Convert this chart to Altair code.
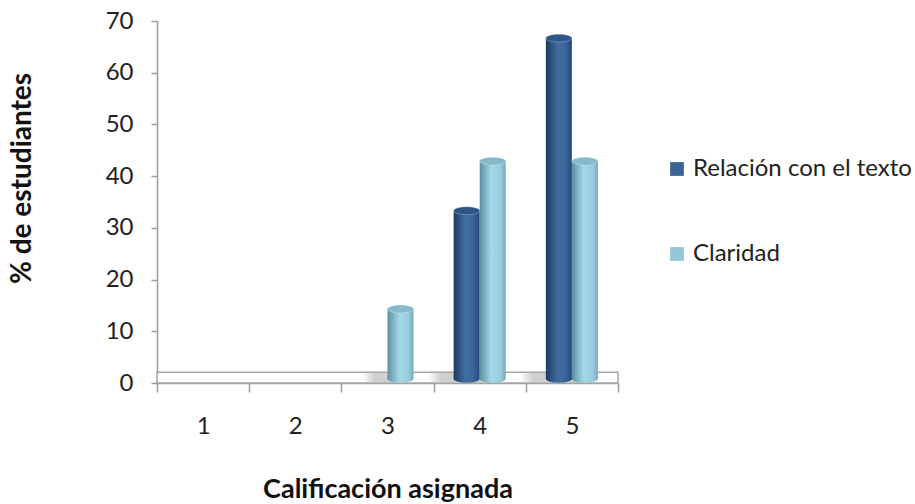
import altair as alt
import pandas as pd

# Ratings and the share of students giving each one, per criterion
categorias = ["1", "2", "3", "4", "5"]
series = ["Relación con el texto", "Claridad"]
relacion = [0, 0, 0, 33.3, 66.7]
claridad = [0, 0, 14.3, 42.9, 42.9]
y_ticks = [0, 10, 20, 30, 40, 50, 60, 70]

FONT = "Lato"
W, H = 461, 362
FLOOR = 2.1      # depth of the floor slab, in axis units
BASE = 0.8       # where the cylinders rest inside the slab

rows = []
for c, r, cl in zip(categorias, relacion, claridad):
    rows.append({"cat": c, "serie": series[0], "valor": r})
    rows.append({"cat": c, "serie": series[1], "valor": cl})
df = pd.DataFrame(rows)
df["base"] = BASE
df["s0"] = 0.15
df["s1"] = FLOOR - 0.1
df_pos = df[df["valor"] > 0]

colores = ["#3A6396", "#93C8D9"]

x_scale = alt.Scale(domain=categorias, paddingInner=0, paddingOuter=0)
y_scale = alt.Scale(domain=[0, 70], nice=False)
off_scale = alt.Scale(domain=series, paddingInner=0, paddingOuter=0.77)

x_axis = alt.Axis(
    title="Calificación asignada", labelAngle=0, tickBand="extent",
    domainColor="#9A9A9A", tickColor="#9A9A9A", tickSize=9, domainWidth=1.5,
    tickWidth=1.5, labelPadding=22, labelFontSize=24, labelColor="#222222",
    labelFont=FONT, titleFont=FONT, titleFontSize=27, titleFontWeight="bold",
    titleColor="#111111", titleX=W / 2, titleY=114, titleBaseline="alphabetic",
)
y_axis = alt.Axis(
    title="% de estudiantes", values=y_ticks, grid=False,
    domainColor="#9A9A9A", tickColor="#9A9A9A", tickSize=6, domainWidth=1.5,
    tickWidth=1.5, labelPadding=18, labelFontSize=24, labelColor="#222222",
    labelFont=FONT, titleFont=FONT, titleFontSize=28, titleFontWeight="bold",
    titleColor="#111111", titleX=-135, titleY=157, titleAngle=-90,
    titleAlign="center", titleBaseline="middle",
)


def grad(stops):
    return alt.Gradient(
        gradient="linear", x1=0, x2=1, y1=0, y2=0,
        stops=[alt.GradientStop(color=c, offset=o) for o, c in stops],
    )


body_grad = {
    series[0]: grad([(0, "#1E3A60"), (0.45, "#3F6DA3"), (0.75, "#3A659A"), (1, "#27497A")]),
    series[1]: grad([(0, "#5E8E9D"), (0.45, "#A3D8E8"), (0.8, "#96CCDC"), (1, "#78AABA")]),
}
cap_color = {series[0]: "#2E5585", series[1]: "#86BACA"}
shadow_grad = grad([(0, "rgba(170,170,170,0)"), (0.3, "rgba(170,170,170,0.55)"),
                    (0.7, "rgba(170,170,170,0.55)"), (1, "rgba(170,170,170,0)")])

ELLIPSE = "M -1 0 A 1 0.3 0 1 1 1 0 A 1 0.3 0 1 1 -1 0 Z"

base = alt.Chart(df_pos)

# floor slab
floor = alt.Chart(pd.DataFrame({"a": [0]})).mark_rect(
    fill="white", stroke="#A6A6A6", strokeWidth=1.5
).encode(
    x=alt.value(0), x2=alt.value(W),
    y=alt.datum(0, scale=y_scale), y2=alt.datum(FLOOR),
)

# soft shadow on the floor under every cylinder
shadow = base.mark_bar(width={"band": 1.55}, color=shadow_grad).encode(
    x=alt.X("cat:N", scale=x_scale, axis=x_axis),
    xOffset=alt.XOffset("serie:N", scale=off_scale),
    y=alt.Y("s0:Q", scale=y_scale, axis=y_axis),
    y2="s1:Q",
)

layers = [floor, shadow]
for s in series:
    sub = base.transform_filter(alt.datum.serie == s)
    body = sub.mark_bar(color=body_grad[s]).encode(
        x=alt.X("cat:N", scale=x_scale, axis=x_axis),
        xOffset=alt.XOffset("serie:N", scale=off_scale),
        y=alt.Y("base:Q", scale=y_scale, axis=y_axis),
        y2="valor:Q",
    )
    bottom = sub.mark_point(shape=ELLIPSE, size=690, filled=True, opacity=1,
                            strokeWidth=0, color=body_grad[s]).encode(
        x=alt.X("cat:N", scale=x_scale),
        xOffset=alt.XOffset("serie:N", scale=off_scale),
        y=alt.Y("base:Q", scale=y_scale),
    )
    cap = sub.mark_point(shape=ELLIPSE, size=690, filled=True, opacity=1,
                         strokeWidth=0.8, stroke="#FFFFFF", strokeOpacity=0.35,
                         color=cap_color[s]).encode(
        x=alt.X("cat:N", scale=x_scale),
        xOffset=alt.XOffset("serie:N", scale=off_scale),
        y=alt.Y("valor:Q", scale=y_scale),
    )
    layers += [bottom, body, cap]

# legend carrier: squares drawn by the legend only
legend = base.mark_square(opacity=0, size=1).encode(
    x=alt.X("cat:N", scale=x_scale),
    y=alt.Y("valor:Q", scale=y_scale),
    color=alt.Color(
        "serie:N",
        scale=alt.Scale(domain=series, range=colores),
        legend=alt.Legend(
            title=None, orient="none", legendX=508, legendY=136,
            symbolType="square", symbolSize=190, symbolOpacity=1,
            symbolStrokeWidth=0, labelFont=FONT, labelFontSize=24,
            labelColor="#222222", rowPadding=61, labelOffset=4, padding=0,
            labelLimit=400,
        ),
    ),
)
layers.append(legend)

chart = alt.layer(*layers).properties(
    width=W, height=H,
    autosize=alt.AutoSizeParams(type="none"),
    padding={"left": 157, "top": 21, "right": 915 - 157 - W, "bottom": 504 - 21 - H},
    background="white",
).configure_view(stroke=None)

chart.save("out.html", embed_options={"renderer": "svg", "actions": False})
